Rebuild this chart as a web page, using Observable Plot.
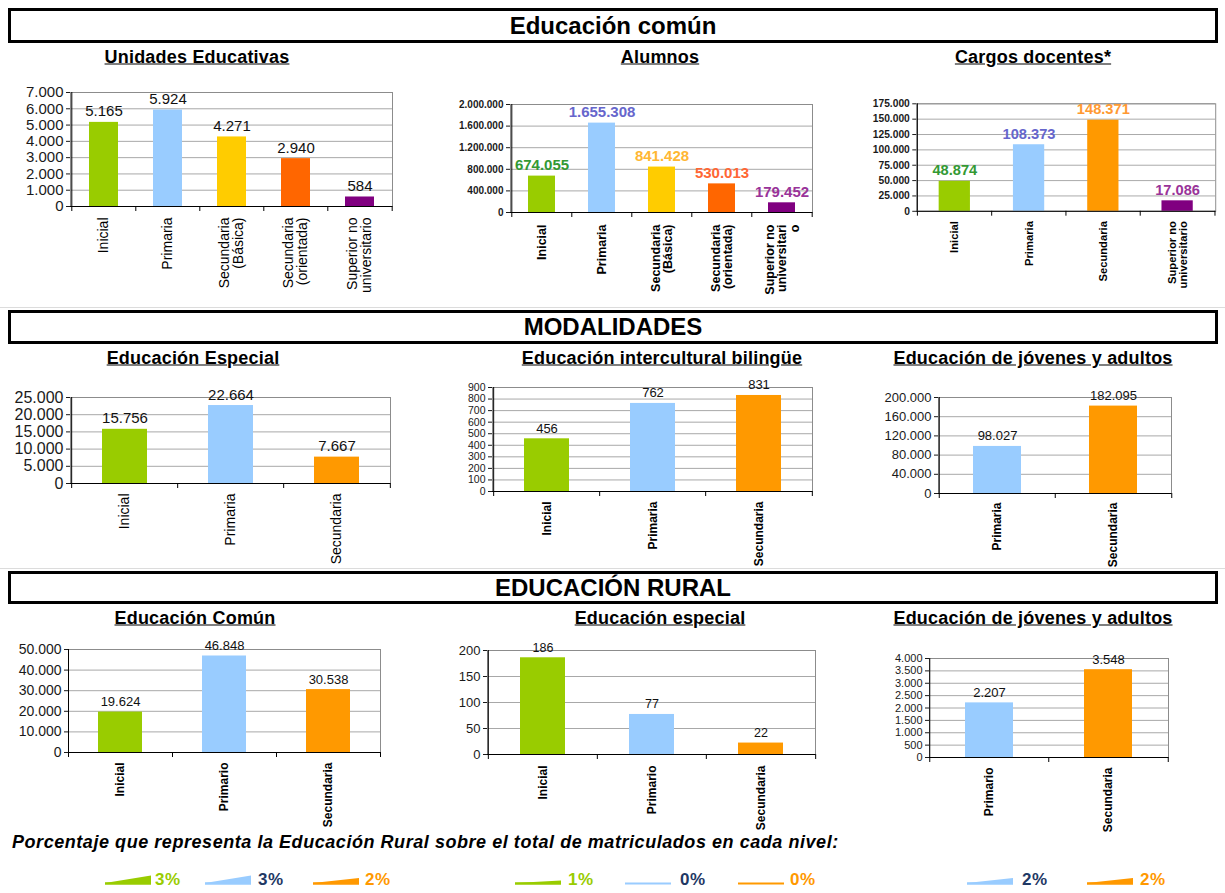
<!DOCTYPE html>
<html><head><meta charset="utf-8">
<script src="https://cdn.jsdelivr.net/npm/d3@7"></script>
<script src="https://cdn.jsdelivr.net/npm/@observablehq/plot@0.6"></script>
<style>
body{margin:0;background:#fff;font-family:"Liberation Sans",Arial,sans-serif;}
#root{position:relative;width:1225px;height:893px;overflow:hidden;background:#fff;}
.box{position:absolute;left:8px;width:1210px;border:3px solid #000;box-sizing:border-box;text-align:center;font-weight:bold;font-size:24px;color:#000;}
.sub{position:absolute;transform:translate(-50%,-50%);font-weight:bold;font-size:18px;letter-spacing:0.2px;text-decoration:underline;white-space:nowrap;color:#000;}
.chart{position:absolute;}
.chart svg{overflow:visible;}
.sep{position:absolute;left:0;width:1225px;height:1px;background:#dcdcdc;}
.note{position:absolute;left:12px;top:832px;font-weight:bold;font-style:italic;font-size:18px;letter-spacing:0.55px;white-space:nowrap;color:#000;}
.pct{position:absolute;font-weight:bold;font-size:17px;letter-spacing:0.5px;font-family:"Liberation Sans",Arial,sans-serif;}
</style></head><body><div id="root"></div>
<script>
// ---------- DATA ----------
const sectionTitles = ["Educación común", "MODALIDADES", "EDUCACIÓN RURAL"];
const chartTitles = ["Unidades Educativas", "Alumnos", "Cargos docentes*",
  "Educación Especial", "Educación intercultural bilingüe", "Educación de jóvenes y adultos",
  "Educación Común", "Educación especial", "Educación de jóvenes y adultos"];

const ueCats = ["Inicial", "Primaria", "Secundaria\n(Básica)", "Secundaria\n(orientada)", "Superior no\nuniversitario"];
const ueVals = [5165, 5924, 4271, 2940, 584];

const alCats = ["Inicial", "Primaria", "Secundaria\n(Básica)", "Secundaria\n(orientada)", "Superior no\nuniversitari\no"];
const alVals = [674055, 1655308, 841428, 530013, 179452];

const cdCats = ["Inicial", "Primaria", "Secundaria", "Superior no\nuniversitario"];
const cdVals = [48874, 108373, 148371, 17086];

const eeCats = ["Inicial", "Primaria", "Secundaria"];
const eeVals = [15756, 22664, 7667];

const eibCats = ["Inicial", "Primaria", "Secundaria"];
const eibVals = [456, 762, 831];

const ejaCats = ["Primaria", "Secundaria"];
const ejaVals = [98027, 182095];

const rcCats = ["Inicial", "Primario", "Secundaria"];
const rcVals = [19624, 46848, 30538];

const reCats = ["Inicial", "Primario", "Secundaria"];
const reVals = [186, 77, 22];

const rjCats = ["Primario", "Secundaria"];
const rjVals = [2207, 3548];

const noteText = "Porcentaje que representa la Educación Rural sobre el total de matriculados en cada nivel:";
const pctVals = [3, 3, 2, 1, 0, 0, 2, 2];
const pctLabels = ["3%", "3%", "2%", "1%", "0%", "0%", "2%", "2%"];

// ---------- STYLE ----------
const G = "#99cc00", B = "#99ccff", Y = "#ffcc00", O6 = "#ff6600", P = "#800080", O9 = "#ff9900";
const REG = "'Liberation Sans', Arial, sans-serif";
const loc = d3.formatLocale({decimal: ",", thousands: ".", grouping: [3], currency: ["$", ""]});
const fmt = loc.format(",d");
const root = document.getElementById("root");

function barChart(o) {
  const n = o.cats.length;
  const fw = o.x1 - o.x0, fh = o.y1 - o.y0;
  const step = fw / n;
  const ml = 80, mr = 10, mt = 30, mb = 110;
  const data = o.cats.map((c, i) => ({cat: c, value: o.vals[i], i}));
  const ticks = d3.range(0, o.max + o.step / 2, o.step);
  const plot = Plot.plot({
    width: fw + ml + mr, height: fh + mt + mb,
    marginLeft: ml, marginRight: mr, marginTop: mt, marginBottom: mb,
    style: {fontFamily: REG, background: "transparent", overflow: "visible"},
    x: {domain: o.cats, paddingInner: o.pad, paddingOuter: o.pad / 2, axis: null},
    y: {domain: [0, o.max], axis: null},
    marks: [
      Plot.gridY(ticks, {stroke: "#a8a8a8", strokeOpacity: 1}),
      Plot.frame({stroke: "#8c8c8c"}),
      Plot.barY(data, {x: "cat", y: "value", fill: d => o.colors[d.i]}),
      Plot.ruleY([0], {stroke: "#000"}),
      Plot.ruleX([o.cats[0]], {dx: -step / 2, stroke: "#000"}),
      Plot.axisY({ticks, tickFormat: fmt, tickSize: 4, tickPadding: 3, label: null,
        fontSize: o.tickFont, fontWeight: o.tickWeight, color: "#1a1a1a"}),
      Plot.axisX({tickFormat: () => "", tickSize: 5, dx: -step / 2, label: null, color: "#000"}),
      Plot.axisX({ticks: [o.cats[n - 1]], tickFormat: () => "", tickSize: 5, dx: step / 2, label: null, color: "#000"}),
      Plot.text(data, {x: "cat", y: "value", text: d => fmt(d.value), dy: -6, lineAnchor: "bottom",
        fill: d => o.valColors[d.i], fontSize: o.valFont, fontWeight: o.valWeight}),
      Plot.text(data, {x: "cat", text: "cat", frameAnchor: "bottom", dy: o.labDy, rotate: -90,
        textAnchor: "end", lineAnchor: "middle", lineHeight: 1.0,
        fontSize: o.labFont, fontWeight: o.labWeight, fill: "#000"})
    ]
  });
  const div = document.createElement("div");
  div.className = "chart";
  div.style.left = (o.x0 - ml) + "px";
  div.style.top = (o.y0 - mt) + "px";
  div.appendChild(plot);
  root.appendChild(div);
}

// section boxes
[[8, 35], [310, 34], [571, 33]].forEach(([top, h], i) => {
  const d = document.createElement("div");
  d.className = "box";
  d.style.top = top + "px"; d.style.height = h + "px"; d.style.lineHeight = (h - 6) + "px";
  d.textContent = sectionTitles[i];
  root.appendChild(d);
});
// separators
[307, 568].forEach(y => { const s = document.createElement("div"); s.className = "sep"; s.style.top = y + "px"; root.appendChild(s); });
// subtitles
[[197, 57], [660, 57], [1033, 57], [193, 358], [662, 358], [1033, 358], [195, 618], [660, 618], [1033, 618]].forEach(([cx, cy], i) => {
  const d = document.createElement("div");
  d.className = "sub"; d.style.left = cx + "px"; d.style.top = cy + "px";
  d.textContent = chartTitles[i];
  root.appendChild(d);
});

const black = ["#111", "#111", "#111", "#111", "#111"];
barChart({cats: ueCats, vals: ueVals, x0: 70, y0: 92, x1: 392, y1: 206, max: 7000, step: 1000, pad: 0.55,
  colors: [G, B, Y, O6, P], tickFont: 15, tickWeight: "normal", valFont: 15, valWeight: "normal", valColors: black,
  labFont: 14, labWeight: "normal", labDy: 11});
barChart({cats: alCats, vals: alVals, x0: 510, y0: 104, x1: 812, y1: 212, max: 2000000, step: 400000, pad: 0.55,
  colors: [G, B, Y, O6, P], tickFont: 10, tickWeight: "bold", valFont: 15, valWeight: "bold",
  valColors: ["#339933", "#6666cc", "#ffb733", "#ff6633", "#993399"],
  labFont: 12.5, labWeight: "bold", labDy: 12});
barChart({cats: cdCats, vals: cdVals, x0: 918, y0: 104, x1: 1224, y1: 214, max: 175000, step: 25000, pad: 0.58,
  colors: [G, B, O9, P], tickFont: 10.5, tickWeight: "bold", valFont: 15, valWeight: "bold",
  valColors: ["#339933", "#6666cc", "#ff9933", "#993399"],
  labFont: 11.5, labWeight: "bold", labDy: 10});
barChart({cats: eeCats, vals: eeVals, x0: 70, y0: 397, x1: 390, y1: 483, max: 25000, step: 5000, pad: 0.58,
  colors: [G, B, O9], tickFont: 16, tickWeight: "normal", valFont: 15, valWeight: "normal", valColors: black,
  labFont: 14, labWeight: "normal", labDy: 10});
barChart({cats: eibCats, vals: eibVals, x0: 492, y0: 387, x1: 812, y1: 491, max: 900, step: 100, pad: 0.58,
  colors: [G, B, O9], tickFont: 10.5, tickWeight: "normal", valFont: 13, valWeight: "normal", valColors: black,
  labFont: 12, labWeight: "bold", labDy: 10});
barChart({cats: ejaCats, vals: ejaVals, x0: 938, y0: 397, x1: 1171, y1: 493, max: 200000, step: 40000, pad: 0.59,
  colors: [B, O9], tickFont: 13, tickWeight: "normal", valFont: 13, valWeight: "normal", valColors: black,
  labFont: 12, labWeight: "bold", labDy: 9});
barChart({cats: rcCats, vals: rcVals, x0: 68, y0: 649, x1: 380, y1: 752, max: 50000, step: 10000, pad: 0.58,
  colors: [G, B, O9], tickFont: 14, tickWeight: "normal", valFont: 13, valWeight: "normal", valColors: black,
  labFont: 12, labWeight: "bold", labDy: 10});
barChart({cats: reCats, vals: reVals, x0: 487, y0: 650, x1: 815, y1: 754, max: 200, step: 50, pad: 0.59,
  colors: [G, B, O9], tickFont: 13, tickWeight: "normal", valFont: 12.5, valWeight: "normal", valColors: black,
  labFont: 12, labWeight: "bold", labDy: 11});
barChart({cats: rjCats, vals: rjVals, x0: 929, y0: 658, x1: 1168, y1: 757, max: 4000, step: 500, pad: 0.6,
  colors: [B, O9], tickFont: 11, tickWeight: "normal", valFont: 13, valWeight: "normal", valColors: black,
  labFont: 12, labWeight: "bold", labDy: 10});

// note
const note = document.createElement("div");
note.className = "note"; note.textContent = noteText; root.appendChild(note);

// percentage wedges
const pctLayout = [[105, 155], [205, 258], [313, 365], [515, 568], [625, 680], [738, 790], [967, 1022], [1087, 1140]];
const pctFill = [G, B, O9, G, B, O9, B, O9];
const pctText = ["#99cc00", "#1f3864", "#ff9900", "#99cc00", "#1f3864", "#ff9900", "#1f3864", "#ff9900"];
pctVals.forEach((v, i) => {
  const [wx, tx] = pctLayout[i];
  const w = Plot.plot({
    width: 46, height: 10, margin: 0, marginBottom: 1,
    style: {background: "transparent", overflow: "visible"},
    x: {domain: [0, 1], axis: null}, y: {domain: [0, 3.6], axis: null},
    marks: [
      Plot.areaY([0, 1], {x: d => d, y: d => d * v, fill: pctFill[i]}),
      Plot.ruleY([0], {stroke: pctFill[i], strokeWidth: v >= 1 ? 2.5 : 2})
    ]
  });
  const d = document.createElement("div");
  d.className = "chart"; d.style.left = wx + "px"; d.style.top = "874px";
  d.appendChild(w); root.appendChild(d);
  const t = document.createElement("div");
  t.className = "pct"; t.style.left = tx + "px"; t.style.top = "870px"; t.style.color = pctText[i];
  t.textContent = pctLabels[i]; root.appendChild(t);
});
</script></body></html>
